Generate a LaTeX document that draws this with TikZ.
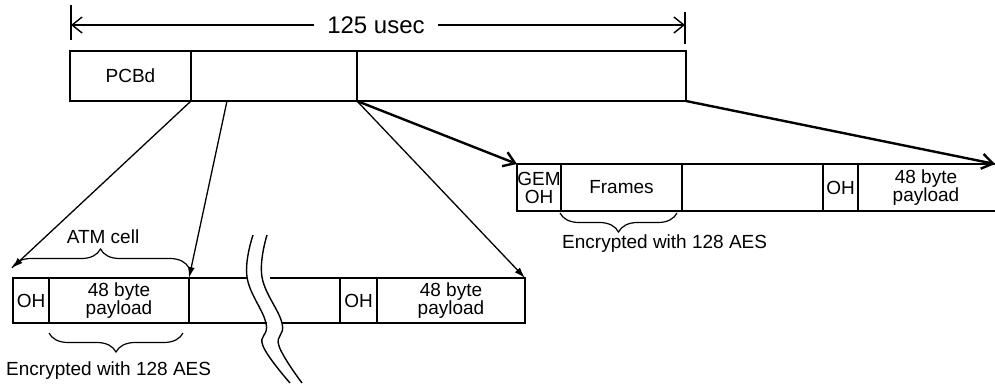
\documentclass[tikz,border=0pt]{standalone}
\usepackage{fontspec}
\setmainfont{Liberation Sans}
\usetikzlibrary{arrows.meta,decorations.pathreplacing}
\newcommand{\lbl}{\fontsize{19}{18}\selectfont}
\newcommand{\biglbl}{\fontsize{24}{26}\selectfont}
\tikzset{
  cell/.style={draw, line width=1.4pt, inner sep=0pt, outer sep=0pt, anchor=north west, align=center, font=\lbl},
  frame/.style={line width=1.4pt},
  thinarr/.style={line width=1.3pt, -{Latex[length=11pt,width=7pt]}},
  thickarr/.style={line width=2.4pt, -{Straight Barb[length=11pt,width=15pt]}},
  cbrace/.style={decorate, decoration={brace, amplitude=19pt}, line width=1.2pt},
}
\begin{document}
\begin{tikzpicture}[x=1pt, y=-1pt]
\useasboundingbox (0,0) rectangle (995,383);
% frame time
\coordinate (spanL) at (71,25);
\coordinate (spanR) at (685,25);
\draw[frame] (71,5) -- (71,40);
\draw[frame] (685,12) -- (685,44);
\node (usec) at (376,25) [inner xsep=13pt, font=\biglbl] {125 usec};
\draw[frame, -{Straight Barb[length=10pt,width=16pt]}] (usec) -- (spanL);
\draw[frame, -{Straight Barb[length=10pt,width=16pt]}] (usec) -- (spanR);
% downstream frame
\node[cell, minimum width=121pt, minimum height=50pt] (pcbd) at (70,51) {PCBd};
\node[cell, minimum width=166pt, minimum height=50pt] (slot2) at (pcbd.north east) {};
\node[cell, minimum width=329pt, minimum height=50pt] (slot3) at (slot2.north east) {};
% ATM cells
\node[cell, minimum width=36pt, minimum height=45pt] (oh1) at (13,278) {OH};
\node[cell, minimum width=140pt, minimum height=45pt] (pay1) at (oh1.north east) {48 byte\\payload};
\node[cell, minimum width=37pt, minimum height=45pt] (oh2) at (340,278) {OH};
\node[cell, minimum width=148pt, minimum height=45pt] (pay2) at (oh2.north east) {48 byte\\payload};
\coordinate (brkTL) at (247,278);
\coordinate (brkTR) at (270,278);
\coordinate (brkBL) at (267,323);
\coordinate (brkBR) at (282,323);
\draw[frame] (pay1.north east) -- (brkTL);
\draw[frame] (brkTR) -- (oh2.north west);
\draw[frame] (pay1.south east) -- (brkBL);
\draw[frame] (brkBR) -- (oh2.south west);
% break
\draw[frame] plot[smooth, tension=0.7] coordinates {(253,235) (247,277) (266,323) (263,346) (290,383)};
\draw[frame] plot[smooth, tension=0.7] coordinates {(267,235) (262,277) (282,323) (279,346) (302,383)};
% GEM frame
\node[cell, minimum width=44pt, minimum height=47pt] (gemoh) at (517,164) {GEM\\OH};
\node[cell, minimum width=121pt, minimum height=47pt] (frames) at (gemoh.north east) {Frames};
\node[cell, minimum width=35pt, minimum height=47pt] (oh3) at (823,164) {OH};
\node[font=\lbl, align=center] (pay3) at (926,187.5) {48 byte\\payload};
\coordinate (gemEnd) at (995,164);
\coordinate (gemEndB) at (995,211);
\draw[frame] (frames.north east) -- (oh3.north west);
\draw[frame] (frames.south east) -- (oh3.south west);
\draw[frame] (oh3.north east) -- (gemEnd);
\draw[frame] (oh3.south east) -- (gemEndB);
% braces
\coordinate (atmL) at (12,268);
\coordinate (atmR) at (189,268);
\draw[cbrace] (atmL) -- (atmR);
\node[font=\lbl] (atm) at (103,237) {ATM cell};
\coordinate (encL) at (49,333);
\coordinate (encR) at (183,333);
\draw[cbrace] (encR) -- (encL);
\node[font=\lbl, anchor=west, inner xsep=0pt] (enc1) at (6,371) {Encrypted with 128 AES};
\coordinate (gencL) at (560,213);
\coordinate (gencR) at (677,213);
\draw[cbrace] (gencR) -- (gencL);
\node[font=\lbl, anchor=west, inner xsep=0pt] (enc2) at (562,244) {Encrypted with 128 AES};
% mapping arrows
\coordinate (tap) at (227,101);
\draw[thinarr] (pcbd.south east) -- (atmL);
\draw[thinarr] (tap) -- (pay1.north east);
\draw[thinarr] (slot2.south east) -- (pay2.north east);
\draw[thickarr] (slot2.south east) -- (gemoh.north west);
\draw[thickarr] (slot3.south east) -- (gemEnd);
\end{tikzpicture}
\end{document}
